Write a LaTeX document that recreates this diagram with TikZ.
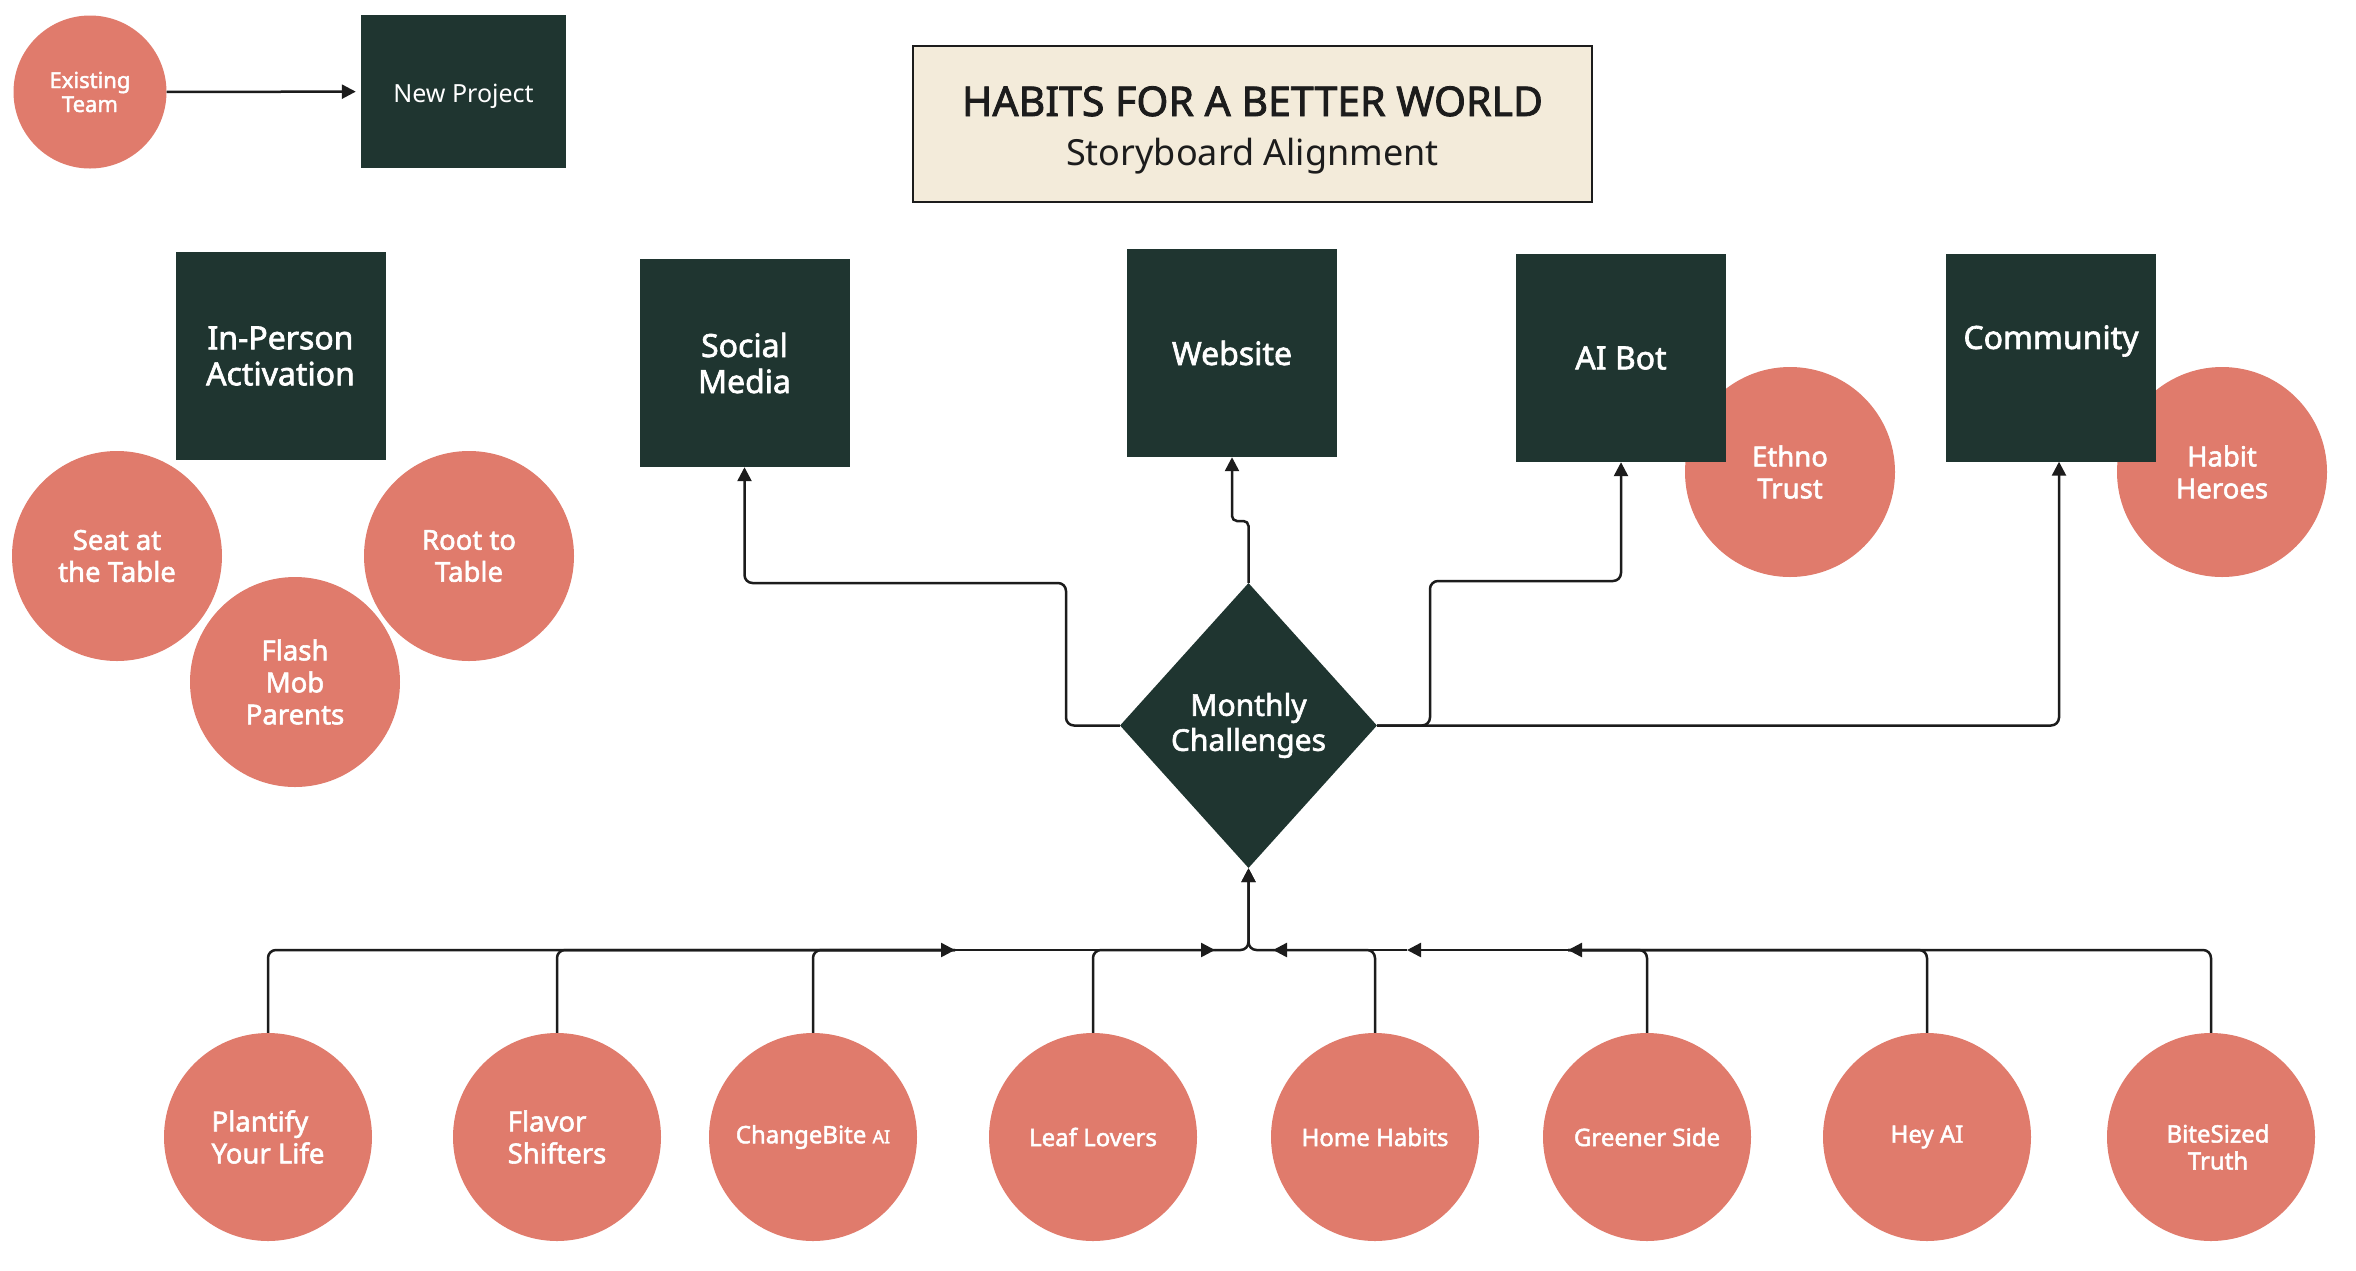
\documentclass[tikz,border=0pt]{standalone}
\usepackage{fontspec}
\setmainfont{Noto Sans}
\newfontfamily\bnoto{Noto Sans}[FakeBold=2]
\usetikzlibrary{shapes.geometric,arrows.meta,calc}
\definecolor{dkgreen}{HTML}{1F3530}
\definecolor{salmon}{HTML}{E07B6C}
\definecolor{cream}{HTML}{F3EBDA}
\definecolor{linec}{HTML}{1C1C1C}
\begin{document}
\begin{tikzpicture}[x=1pt,y=-1pt,
  box/.style={fill=dkgreen,text=white,minimum width=210pt,minimum height=208pt,inner sep=0pt,align=center,font=\fontsize{32}{36}\selectfont\bnoto},
  bubble/.style={circle,fill=salmon,text=white,minimum size=210pt,inner sep=0pt,align=center,font=\fontsize{27.5}{32}\selectfont\bnoto},
  lowbubble/.style={bubble,minimum size=208pt,font=\fontsize{24}{28}\selectfont\bnoto},
  twoline/.style={font=\fontsize{27.5}{32}\selectfont\bnoto},
  conn/.style={draw=linec,line width=2.5pt,rounded corners=8pt},
  tip/.style={-{Triangle[length=14pt,width=14pt]}},
]
\useasboundingbox (0,0) rectangle (2356,1270);
\fill[white] (0,0) rectangle (2356,1270);

% legend
\node[bubble,minimum size=153pt,font=\fontsize{22}{24}\selectfont\bnoto] (team) at (90,92) {Existing\\Team};
\node[box,minimum width=205pt,minimum height=153pt] (newp) at (463.5,91.5) {};
\node[text=white,font=\fontsize{25}{29}\selectfont] (newplbl) at (463.5,96) {New Project};
\draw[conn,tip,shorten >=5pt] (team) -- (newp);

% title
\node[draw=linec,line width=2.5pt,fill=cream,minimum width=679pt,minimum height=156pt] (title) at (1252.5,124) {};
\node[anchor=base,text=linec,font=\fontsize{41}{46}\selectfont\bnoto] (t1) at (1252.5,116) {HABITS FOR A BETTER WORLD};
\node[anchor=base,text=linec,font=\fontsize{36}{42}\selectfont] (t2) at (1252.5,165) {Storyboard Alignment};

% circles behind boxes
\node[bubble] (ethno) at (1790,472) {Ethno\\Trust};
\node[bubble] (heroes) at (2222,472) {Habit\\Heroes};
\node[bubble] (seat) at (117,556) {Seat at\\the Table};
\node[bubble] (root) at (469,556) {Root to\\Table};
\node[bubble] (flash) at (295,682) {Flash\\Mob\\Parents};

% boxes
\node[box] (inperson) at (280.5,356) {In-Person\\Activation};
\node[box] (social) at (744.5,363) {Social\\Media};
\node[box] (website) at (1232,353) {Website};
\node[box] (aibot) at (1621,358) {AI Bot};
\node[box] (community) at (2051,357.5) {};
\node[text=white,font=\fontsize{32}{36}\selectfont\bnoto] (communitylbl) at (2051,341) {Community};

% diamond
\node[diamond,fill=dkgreen,text=white,minimum width=257pt,minimum height=285pt,inner sep=0pt,align=center,font=\fontsize{30}{35}\selectfont\bnoto] (mc) at (1248.5,725.5) {Monthly\\Challenges};

% bottom circles
\node[lowbubble,twoline,align=left] (plantify) at (268,1137) {Plantify\\Your Life};
\node[lowbubble,twoline,align=left] (flavor) at (557,1137) {Flavor\\Shifters};
\node[lowbubble] (change) at (813,1137) {ChangeBite {\fontsize{18}{22}\selectfont AI}};
\node[lowbubble] (leaf) at (1093,1137) {Leaf Lovers};
\node[lowbubble] (home) at (1375,1137) {Home Habits};
\node[lowbubble] (greener) at (1647,1137) {Greener Side};
\node[lowbubble] (heyai) at (1927,1137) {Hey AI};
\node[lowbubble] (bite) at (2211,1137) {};
\node[text=white,align=center,inner sep=0pt,font=\fontsize{24}{27}\selectfont\bnoto] (bitelbl) at (2218,1147) {BiteSized\\Truth};

% upper connectors
\coordinate (k1) at (1066,583);
\coordinate (k2) at (1248.5,521);
\coordinate (k3) at (1430,581);
\draw[conn,tip] (mc.west) -| (k1) -| (social.south);
\draw[conn,rounded corners=5pt,tip] (mc.north) -- (k2) -| (website.south);
\draw[conn,tip] (mc.east) -| (k3) -| (aibot.south);
\draw[conn,tip] (mc.east) -| ([xshift=8pt]community.south);

% bottom bus
\coordinate (a1) at (955,950);
\coordinate (a2) at (1215,950);
\coordinate (a3) at (1273,950);
\coordinate (a4) at (1407,950);
\coordinate (a5) at (1568,950);
\draw[conn] (flavor.north) |- (a1);
\draw[conn] (change.north) |- (a1);
\draw[conn,tip] (plantify.north) |- (a1);
\draw[conn] (leaf.north) |- (a2);
\draw[conn,tip] (a1) -- (a2);
\draw[conn,tip] (a2) -| (mc.south);
\draw[conn] (heyai.north) |- (a5);
\draw[conn] (greener.north) |- (a5);
\draw[conn,tip] (bite.north) |- (a5);
\draw[conn,tip] (a5) -- (a4);
\draw[conn] (home.north) |- (a3);
\draw[conn,tip] (a4) -- (a3);
\draw[conn,tip] (a3) -| (mc.south);
\end{tikzpicture}
\end{document}
